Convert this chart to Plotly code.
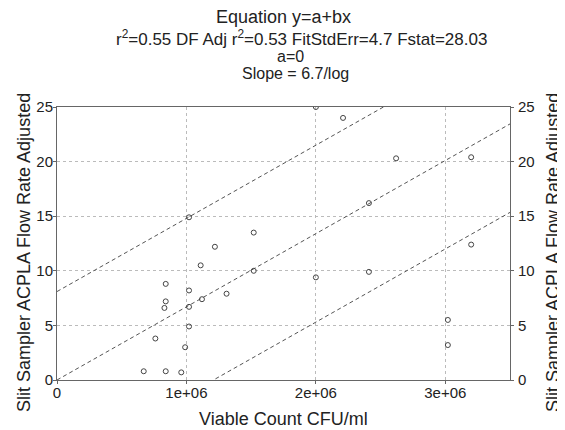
import plotly.graph_objects as go

# ---- data ----
viable_count = [2.0e6, 2.21e6, 2.62e6, 3.2e6, 2.41e6, 3.2e6, 2.41e6, 2.0e6, 3.02e6, 3.02e6,
                1.02e6, 1.52e6, 1.22e6, 1.52e6, 1.11e6, 0.84e6, 1.02e6, 1.31e6, 0.84e6, 0.83e6,
                1.12e6, 1.02e6, 1.02e6, 0.76e6, 0.99e6, 0.67e6, 0.84e6, 0.96e6]
flow_rate = [25.0, 24.0, 20.3, 20.4, 16.2, 12.4, 9.9, 9.4, 5.5, 3.2,
             14.9, 13.5, 12.2, 10.0, 10.5, 8.8, 8.2, 7.9, 7.2, 6.6,
             7.4, 6.7, 4.9, 3.8, 3.0, 0.8, 0.8, 0.7]

fit_intercept = 0.0
fit_slope = 6.7e-6      # per CFU/ml
band_offset = 8.1       # upper / lower dashed lines
x_line = [0.0, 3.5e6]

x_tickvals = [0, 1e6, 2e6, 3e6]
x_ticktext = ["0", "1e+06", "2e+06", "3e+06"]
y_tickvals = [0, 5, 10, 15, 20, 25]

FONT = "Liberation Sans, Arial, sans-serif"
INK = "#222222"
LINE = "#555555"

fig = go.Figure()

for off in (-band_offset, 0.0, band_offset):
    fig.add_trace(go.Scatter(
        x=x_line, y=[fit_intercept + off + fit_slope * v for v in x_line],
        mode="lines", line=dict(color=LINE, width=1, dash="4px,3px"),
        hoverinfo="skip", showlegend=False))

fig.add_trace(go.Scatter(
    x=viable_count, y=flow_rate, mode="markers",
    marker=dict(symbol="circle-open", size=5, color="#444444", line=dict(width=1)),
    showlegend=False))

fig.add_trace(go.Scatter(x=[0], y=[0], yaxis="y2", mode="markers",
                         marker=dict(opacity=0), hoverinfo="skip", showlegend=False))


def axis_common():
    return dict(showline=True, linecolor="#666666", linewidth=1,
                ticks="outside", ticklen=3, tickcolor="#666666",
                tickfont=dict(family=FONT, size=15, color=INK), zeroline=False)


xaxis = dict(range=[0, 3.5e6], tickvals=x_tickvals, ticktext=x_ticktext,
             mirror=True, showgrid=True, gridcolor="#bbbbbb", griddash="dot",
             gridwidth=1, **axis_common())
yaxis = dict(range=[0, 25], tickvals=y_tickvals, showgrid=True,
             gridcolor="#bbbbbb", griddash="dot", gridwidth=1, **axis_common())
yaxis2 = dict(range=[0, 25], tickvals=y_tickvals, overlaying="y", side="right",
              showgrid=False, **axis_common())

# page body has an 8px margin: figure is shrunk and shifted accordingly
fig.update_layout(
    width=557, height=422, autosize=False,
    margin=dict(l=49, r=55, t=99, b=50),
    paper_bgcolor="white", plot_bgcolor="white",
    xaxis=xaxis, yaxis=yaxis, yaxis2=yaxis2,
    showlegend=False,
)
try:
    fig.update_layout(xaxis_ticklabelstandoff=-4, yaxis_ticklabelstandoff=-3,
                      yaxis2_ticklabelstandoff=1)
except Exception:
    pass


def px_y(p):  # reference pixel -> paper
    return (380 - p) / 273.0


def px_x(p):
    return (p - 57) / 453.0


texts = [
    ("ACPLA vs Associated Data From Dycor Modified Slit Samplers", 300, -2, 18),
    ("Equation y=a+bx", 283, 17, 18),
    ("r<sup>2</sup>=0.55 DF Adj r<sup>2</sup>=0.53 FitStdErr=4.7 Fstat=28.03", 301, 38, 17),
    ("a=0", 290, 57, 16),
    ("Slope = 6.7/log", 295, 73.5, 16),
    ("Viable Count CFU/ml", 283, 419, 18),
]
for t, xp, yp, fs in texts:
    fig.add_annotation(text=t, xref="paper", yref="paper", x=px_x(xp), y=px_y(yp),
                       xanchor="center", yanchor="middle", showarrow=False,
                       font=dict(family=FONT, size=fs, color=INK))

for xp in (24, 553):
    fig.add_annotation(text="Slit Sampler ACPLA Flow Rate Adjusted", xref="paper", yref="paper",
                       x=px_x(xp), y=px_y(253), xanchor="center", yanchor="middle",
                       textangle=-90, showarrow=False,
                       font=dict(family=FONT, size=18, color=INK))

fig.write_html("out.html")
